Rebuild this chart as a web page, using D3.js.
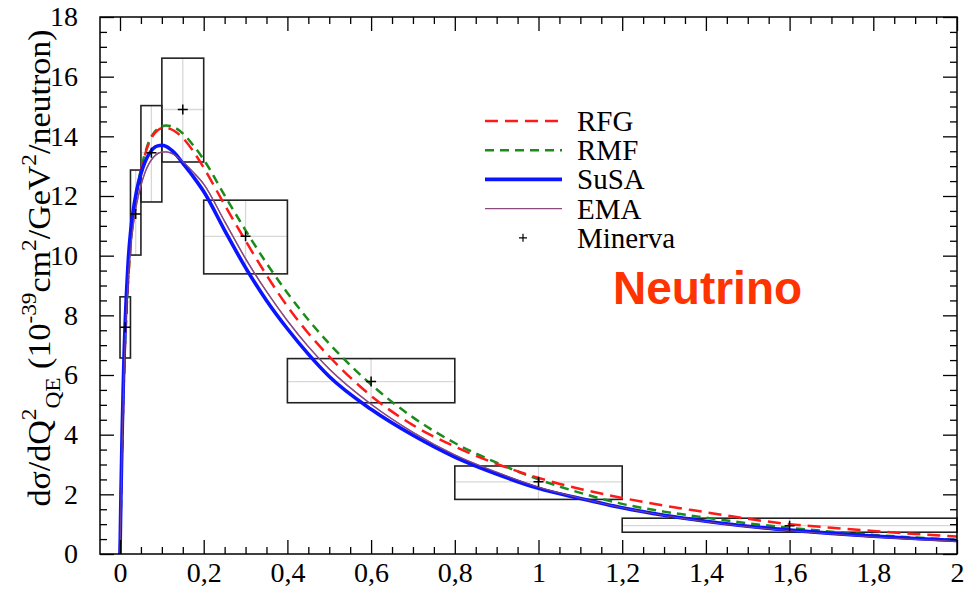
<!DOCTYPE html>
<html>
<head>
<meta charset="utf-8">
<script src="https://cdn.jsdelivr.net/npm/d3@7"></script>
<style>
  body { margin: 0; background: #fff; }
  svg text { font-family: "Liberation Serif", "DejaVu Serif", serif; }
</style>
</head>
<body>
<div id="chart"></div>
<script>
var svgWidth = 969;
var svgHeight = 592;

// Q2 grid shared by the model curves
var q2 = [0, 0.0025, 0.005, 0.0075, 0.01, 0.0125, 0.015, 0.0175, 0.02, 0.025, 0.03, 0.04, 0.05, 0.06, 0.07, 0.08, 0.09,
  0.1, 0.11, 0.12, 0.13, 0.15, 0.175, 0.2, 0.25, 0.3, 0.35, 0.4, 0.45, 0.5, 0.6, 0.7, 0.8, 0.9, 1.0,
  1.1, 1.2, 1.3, 1.4, 1.5, 1.6, 1.7, 1.8, 1.9, 2.0];

var rfg = [0, 1.9, 3.6, 5.0, 6.2, 7.2, 8.0, 8.7, 9.3, 10.3, 11.05, 12.1, 12.85, 13.4, 13.8, 14.05, 14.2,
  14.27, 14.28, 14.25, 14.18, 13.95, 13.5, 12.95, 11.7, 10.5, 9.35, 8.3, 7.4, 6.62, 5.3, 4.32, 3.6, 3.02, 2.55,
  2.18, 1.88, 1.62, 1.4, 1.18, 1.0, 0.88, 0.77, 0.67, 0.59];

var rmf = [0, 1.9, 3.6, 5.0, 6.2, 7.2, 8.0, 8.7, 9.3, 10.35, 11.1, 12.15, 12.9, 13.45, 13.85, 14.1, 14.25,
  14.33, 14.36, 14.35, 14.3, 14.1, 13.7, 13.22, 12.02, 10.85, 9.75, 8.75, 7.85, 7.05, 5.68, 4.58, 3.72, 3.06, 2.5,
  2.05, 1.68, 1.42, 1.22, 1.03, 0.88, 0.75, 0.64, 0.55, 0.48];

var susa = [0, 2.2, 4.0, 5.5, 6.8, 7.8, 8.6, 9.3, 9.9, 10.75, 11.35, 12.2, 12.75, 13.15, 13.42, 13.6, 13.68,
  13.7, 13.66, 13.57, 13.45, 13.1, 12.65, 12.15, 10.85, 9.6, 8.5, 7.55, 6.7, 5.95, 4.85, 3.98, 3.25, 2.68, 2.2,
  1.86, 1.55, 1.3, 1.1, 0.93, 0.8, 0.69, 0.6, 0.52, 0.45];

var ema = [0, 1.9, 3.6, 5.0, 6.2, 7.2, 8.0, 8.7, 9.3, 10.2, 10.85, 11.75, 12.35, 12.8, 13.1, 13.3, 13.42,
  13.47, 13.48, 13.45, 13.38, 13.15, 12.8, 12.4, 11.15, 9.9, 8.8, 7.82, 6.95, 6.2, 5.02, 4.08, 3.32, 2.74, 2.24,
  1.87, 1.55, 1.29, 1.08, 0.91, 0.78, 0.67, 0.57, 0.49, 0.42];

// Minerva data: bin edges, central values and error band
var binLo = [0, 0.025, 0.05, 0.1, 0.2, 0.4, 0.8, 1.2];
var binHi = [0.025, 0.05, 0.1, 0.2, 0.4, 0.8, 1.2, 2.0];
var minX = [0.0125, 0.0375, 0.075, 0.15, 0.3, 0.6, 1.0, 1.6];
var minY = [7.6, 11.4, 13.45, 14.9, 10.65, 5.78, 2.42, 0.95];
var errLo = [6.57, 10.02, 11.8, 13.14, 9.39, 5.07, 1.83, 0.73];
var errHi = [8.62, 12.87, 15.03, 16.62, 11.86, 6.55, 2.95, 1.2];

var xTicks = [0, 0.2, 0.4, 0.6, 0.8, 1, 1.2, 1.4, 1.6, 1.8, 2];
var yTicks = [0, 2, 4, 6, 8, 10, 12, 14, 16, 18];

var svg = d3.select("#chart")
  .append("svg")
  .attr("width", svgWidth)
  .attr("height", svgHeight);

var xScale = d3.scaleLinear().domain([-0.0478, 2]).range([100, 957]);
var yScale = d3.scaleLinear().domain([0, 18]).range([554, 17]);

var xMinor = d3.range(0, 2.0001, 0.05).filter(v => Math.abs(v * 5 - Math.round(v * 5)) > 1e-6);
var yMinor = d3.range(0, 18.0001, 0.5).filter(v => Math.abs(v / 2 - Math.round(v / 2)) > 1e-6);

var fmt = d => String(d).replace(".", ",");

// Minerva boxes with light crosshair
var boxes = svg.append("g");
minX.forEach(function(mx, i) {
  var x0 = xScale(binLo[i]), x1 = xScale(binHi[i]);
  var y0 = yScale(errHi[i]), y1 = yScale(errLo[i]);
  boxes.append("line").attr("x1", x0).attr("x2", x1)
    .attr("y1", yScale(minY[i])).attr("y2", yScale(minY[i]))
    .attr("stroke", "#d8d8d8").attr("stroke-width", 1.3);
  boxes.append("line").attr("x1", xScale(mx)).attr("x2", xScale(mx))
    .attr("y1", y0).attr("y2", y1)
    .attr("stroke", "#d8d8d8").attr("stroke-width", 1.3);
  boxes.append("rect").attr("x", x0).attr("y", y0)
    .attr("width", x1 - x0).attr("height", y1 - y0)
    .attr("fill", "none").attr("stroke", "#222").attr("stroke-width", 1.6);
});

// model curves
var line = d3.line().x((d, i) => xScale(q2[i])).y(d => yScale(d)).curve(d3.curveMonotoneX);

var series = [
  { name: "RMF", data: rmf, color: "#1a8c1a", width: 2.5, dash: "9,6" },
  { name: "RFG", data: rfg, color: "#ff1a1a", width: 2.5, dash: "13,7" },
  { name: "EMA", data: ema, color: "#8a4a7e", width: 1.4, dash: null },
  { name: "SuSA", data: susa, color: "#0a14ff", width: 3.6, dash: null }
];

series.forEach(function(s) {
  svg.append("path")
    .datum(s.data)
    .attr("d", line)
    .attr("fill", "none")
    .attr("stroke", s.color)
    .attr("stroke-width", s.width)
    .attr("stroke-dasharray", s.dash);
});
// keep EMA on top of SuSA like the original
svg.append("path").datum(ema).attr("d", line).attr("fill", "none")
  .attr("stroke", "#8a4a7e").attr("stroke-width", 1.2).attr("opacity", 0.8);

// data crosses
svg.append("g").selectAll("path")
  .data(minX)
  .enter()
  .append("path")
  .attr("d", (d, i) => {
    var cx = xScale(d), cy = yScale(minY[i]);
    return "M" + (cx - 5) + "," + cy + "H" + (cx + 5) + "M" + cx + "," + (cy - 5) + "V" + (cy + 5);
  })
  .attr("stroke", "#000").attr("stroke-width", 1.5);

// axes with inward ticks on all four sides
function addAxis(axis, tr) {
  var g = svg.append("g").attr("transform", tr).call(axis)
    .attr("font-family", "Liberation Serif, serif");
  g.select(".domain").remove();
  g.selectAll(".tick line").attr("stroke", "#000").attr("stroke-width", 1.3);
  return g;
}

var xb = addAxis(d3.axisBottom(xScale).tickValues(xTicks).tickSize(-14).tickPadding(8).tickFormat(fmt), "translate(0,554)");
xb.selectAll("text").attr("font-size", 28).attr("fill", "#000");
addAxis(d3.axisBottom(xScale).tickValues(xMinor).tickSize(-7).tickFormat(""), "translate(0,554)");
addAxis(d3.axisTop(xScale).tickValues(xTicks).tickSize(-14).tickFormat(""), "translate(0,17)");
addAxis(d3.axisTop(xScale).tickValues(xMinor).tickSize(-7).tickFormat(""), "translate(0,17)");

var yl = addAxis(d3.axisLeft(yScale).tickValues(yTicks).tickSize(-14).tickPadding(22).tickFormat(fmt), "translate(100,0)");
yl.selectAll("text").attr("font-size", 28).attr("fill", "#000");
addAxis(d3.axisLeft(yScale).tickValues(yMinor).tickSize(-7).tickFormat(""), "translate(100,0)");
addAxis(d3.axisRight(yScale).tickValues(yTicks).tickSize(-14).tickFormat(""), "translate(957,0)");
addAxis(d3.axisRight(yScale).tickValues(yMinor).tickSize(-7).tickFormat(""), "translate(957,0)");

// frame
svg.append("rect").attr("x", 100).attr("y", 17).attr("width", 857).attr("height", 537)
  .attr("fill", "none").attr("stroke", "#000").attr("stroke-width", 1.5);

// y axis title
var yt = svg.append("text")
  .attr("transform", "translate(50,268) rotate(-90)")
  .attr("text-anchor", "middle")
  .attr("font-size", 32)
  .attr("textLength", 477)
  .attr("lengthAdjust", "spacingAndGlyphs")
  .attr("fill", "#000");
yt.append("tspan").text("dσ/dQ");
yt.append("tspan").attr("dy", -14).attr("font-size", 22).text("2");
yt.append("tspan").attr("dy", 24).attr("font-size", 22).text("QE");
yt.append("tspan").attr("dy", -10).text(" (10");
yt.append("tspan").attr("dy", -14).attr("font-size", 22).text("-39");
yt.append("tspan").attr("dy", 14).text("cm");
yt.append("tspan").attr("dy", -14).attr("font-size", 22).text("2");
yt.append("tspan").attr("dy", 14).text("/GeV");
yt.append("tspan").attr("dy", -14).attr("font-size", 22).text("2");
yt.append("tspan").attr("dy", 14).text("/neutron)");

// legend
var legendItems = [
  { name: "RFG", color: "#ff1a1a", width: 2.5, dash: "13,7" },
  { name: "RMF", color: "#1a8c1a", width: 2.5, dash: "9,6" },
  { name: "SuSA", color: "#0a14ff", width: 3.6, dash: null },
  { name: "EMA", color: "#8a4a7e", width: 1.4, dash: null },
  { name: "Minerva", color: "#000", width: 1.2, dash: null, marker: true }
];
var legend = svg.append("g");
legendItems.forEach(function(it, i) {
  var ly = 121 + i * 29.2;
  if (it.marker) {
    legend.append("path").attr("d", "M519," + ly + "H527M523," + (ly - 4) + "V" + (ly + 4))
      .attr("stroke", "#000").attr("stroke-width", 1.2);
  } else {
    legend.append("line").attr("x1", 485).attr("x2", 562).attr("y1", ly).attr("y2", ly)
      .attr("stroke", it.color).attr("stroke-width", it.width).attr("stroke-dasharray", it.dash);
  }
  legend.append("text").attr("x", 577).attr("y", ly + 10).attr("font-size", 29)
    .attr("fill", "#000").text(it.name);
});

svg.append("text")
  .attr("x", 613).attr("y", 304)
  .attr("font-size", 46)
  .attr("font-weight", "bold")
  .attr("fill", "#ff3300")
  .style("font-family", "Liberation Sans, Arial, sans-serif")
  .text("Neutrino");
</script>
</body>
</html>
